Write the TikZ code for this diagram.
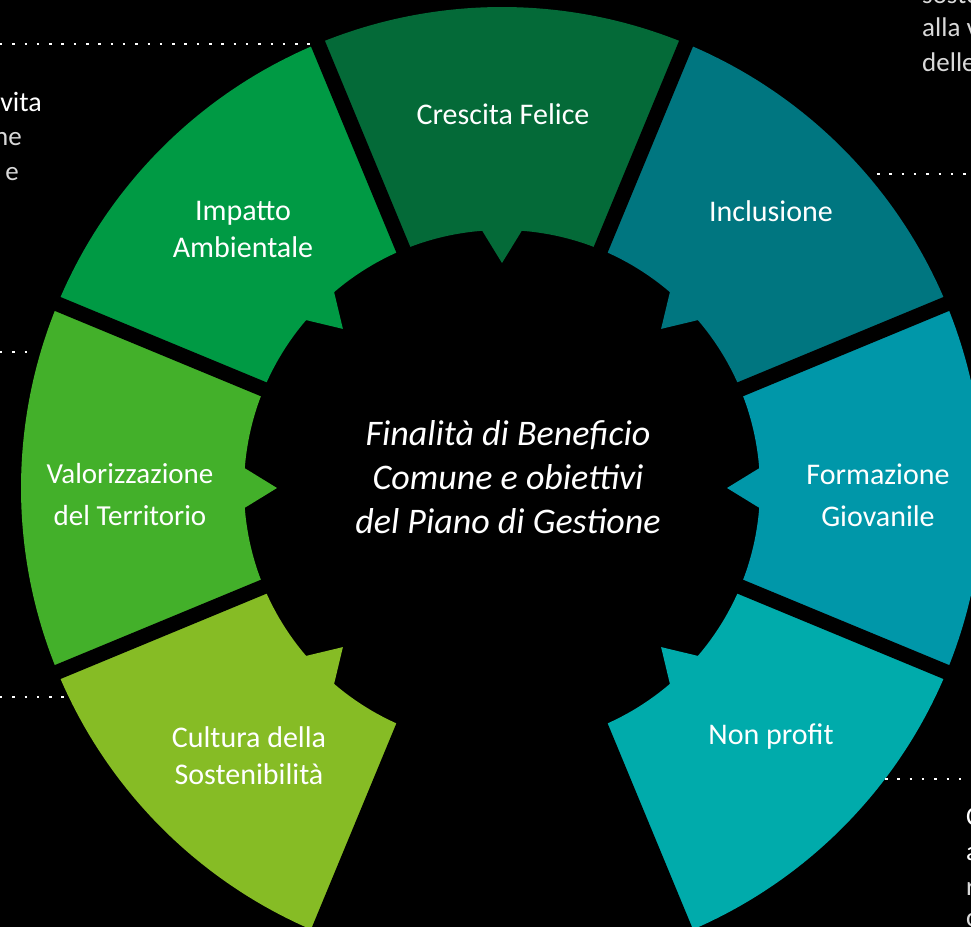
\documentclass[tikz,border=0pt]{standalone}
\usepackage{fontspec}
\setmainfont{Carlito}
\definecolor{cF}{HTML}{046A38}
\definecolor{cI}{HTML}{009A44}
\definecolor{cV}{HTML}{43B02A}
\definecolor{cC}{HTML}{86BC25}
\definecolor{cN}{HTML}{007680}
\definecolor{cG}{HTML}{0097A9}
\definecolor{cP}{HTML}{00ABAB}
\definecolor{fragc}{HTML}{D9D9D9}
\begin{document}
\begin{tikzpicture}[x=1pt,y=1pt,
  lbl/.style={text=white,align=center,inner sep=0pt,font=\fontsize{30}{37}\selectfont},
  frag/.style={text=fragc,inner sep=0pt,font=\fontsize{27}{35}\selectfont},
  dotline/.style={white,line width=2.5pt,dash pattern=on 2.5pt off 9.8pt},
  gapline/.style={black,line width=15pt}]
\useasboundingbox (-502,-438) rectangle (469,488);
\fill[black] (-515,-450) rectangle (480,500);
\clip (-502,-438) rectangle (469,488);
% ring segments
\foreach \c/\col in {90/cF,135/cI,180/cV,225/cC,45/cN,0/cG,-45/cP}{
  \fill[\col] ({\c-22.5}:481pt) arc[start angle={\c-22.5},end angle={\c+22.5},radius=481pt]
    -- ({\c+22.5}:258pt) arc[start angle={\c+22.5},end angle={\c+4.4},radius=258pt]
    -- (\c:225pt) -- ({\c-4.4}:258pt)
    arc[start angle={\c-4.4},end angle={\c-22.5},radius=258pt] -- cycle;
}
% gaps between segments
\foreach \g in {22.5,67.5,...,337.5}{
  \draw[gapline] (0,0) -- (\g:530pt);
}
% labels
\node[lbl] (crescita) at (1,374) {Crescita Felice};
\node[lbl] (impatto) at (-259,259) {Impatto\\Ambientale};
\node[lbl,font=\fontsize{29}{42}\selectfont] (valorizzazione) at (-372,-7) {Valorizzazione\\del Territorio};
\node[lbl] (cultura) at (-253,-268) {Cultura della\\Sostenibilità};
\node[lbl] (inclusione) at (269,277) {Inclusione};
\node[lbl,font=\fontsize{30}{42}\selectfont] (formazione) at (376,-7) {Formazione\\Giovanile};
\node[lbl] (nonprofit) at (269,-249) {Non profit};
\node[text=white,align=center,inner sep=0pt,font=\fontsize{36}{44}\selectfont\itshape] (centro) at (6,11)
  {Finalità di Beneficio\\Comune e obiettivi\\del Piano di Gestione};
% dotted leader lines
\coordinate (d1a) at (-502,444); \coordinate (d1b) at (-192,444);
\coordinate (d2a) at (375,314);  \coordinate (d2b) at (469,314);
\coordinate (d3a) at (-502,136); \coordinate (d3b) at (-469,136);
\coordinate (d4a) at (-502,-209); \coordinate (d4b) at (-434,-209);
\coordinate (d5a) at (383,-291); \coordinate (d5b) at (469,-291);
\draw[dotline] (d1a) -- (d1b);
\draw[dotline] (d2a) -- (d2b);
\draw[dotline] (d3a) -- (d3b);
\draw[dotline] (d4a) -- (d4b);
\draw[dotline] (d5a) -- (d5b);
% clipped side texts
\node[frag,text=white,anchor=base east,font=\fontsize{28}{35}\selectfont] (f1) at (-460,376) {vita};
\node[frag,anchor=base east] (f2) at (-480,342) {ne};
\node[frag,anchor=base east] (f3) at (-483,307) {e};
\node[frag,anchor=base west] (f4) at (420,484) {soste};
\node[frag,anchor=base west] (f5) at (420,451) {alla v};
\node[frag,anchor=base west] (f6) at (420,416) {delle};
\node[frag,text=white,anchor=base west] (f7) at (464,-337) {C};
\node[frag,text=white,anchor=base west] (f8) at (464,-372) {a};
\node[frag,anchor=base west] (f9) at (464,-407) {r};
\node[frag,anchor=base west] (f10) at (464,-438) {c};
\end{tikzpicture}
\end{document}
